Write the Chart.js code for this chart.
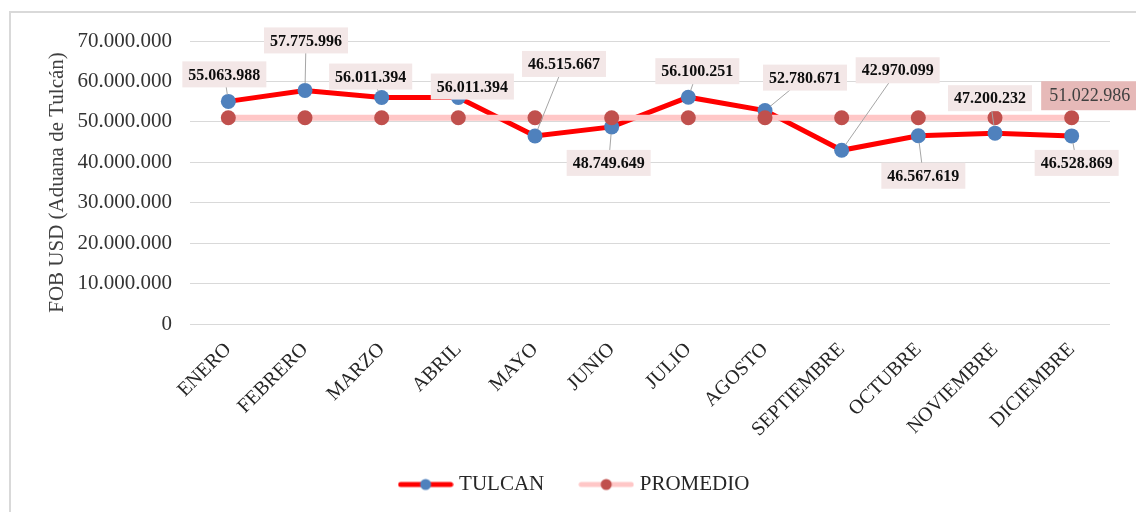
<!DOCTYPE html>
<html><head><meta charset="utf-8">
<script src="https://cdn.jsdelivr.net/npm/chart.js@4"></script>
<style>html,body{margin:0;padding:0;background:#fff;}</style>
</head><body>
<canvas id="c" width="1136" height="512"></canvas>
<script>
const categories = ['ENERO','FEBRERO','MARZO','ABRIL','MAYO','JUNIO','JULIO','AGOSTO','SEPTIEMBRE','OCTUBRE','NOVIEMBRE','DICIEMBRE'];
const tulcanValues = [55063988, 57775996, 56011394, 56011394, 46515667, 48749649, 56100251, 52780671, 42970099, 46567619, 47200232, 46528869];
const promedioValues = [51022986, 51022986, 51022986, 51022986, 51022986, 51022986, 51022986, 51022986, 51022986, 51022986, 51022986, 51022986];
const yTickValues = [0, 10000000, 20000000, 30000000, 40000000, 50000000, 60000000, 70000000];
const seriesNames = ['TULCAN', 'PROMEDIO'];
const axisTitle = 'FOB USD (Aduana de Tulcán)';

function fmt(v){ return String(Math.round(v)).replace(/\B(?=(\d{3})+(?!\d))/g, '.'); }

// label placement (style): dataset, index, offset from point
const labelPlacement = [
  {ds:0,i:0,dx:-4,dy:-27},{ds:0,i:1,dx:1,dy:-50},{ds:0,i:2,dx:-11,dy:-21},{ds:0,i:3,dx:14,dy:-11},
  {ds:0,i:4,dx:29,dy:-72},{ds:0,i:5,dx:-3,dy:36},{ds:0,i:6,dx:9,dy:-26},{ds:0,i:7,dx:40,dy:-33},
  {ds:0,i:8,dx:56,dy:-80},{ds:0,i:9,dx:5,dy:40},{ds:0,i:10,dx:-5,dy:-35},{ds:0,i:11,dx:5,dy:27},
  {ds:1,i:11,dx:18,dy:-22,avg:true}
];

function legendImg(line, dot){
  const c = document.createElement('canvas'); c.width = 56; c.height = 14;
  const g = c.getContext('2d');
  g.strokeStyle = line; g.lineWidth = 5; g.lineCap = 'round';
  g.beginPath(); g.moveTo(3,7); g.lineTo(53,7); g.stroke();
  g.fillStyle = dot; g.beginPath(); g.arc(28,7,5.5,0,Math.PI*2); g.fill();
  return c;
}
const legendImgs = [legendImg('#ff0000','#4f81bd'), legendImg('#ffc7c7','#c0504d')];

const framePlugin = {
  id:'frame',
  afterLayout(chart){
    if(chart.legend){ chart.legend.left += 21; chart.legend.right += 21; }
    if(chart.scales.x){ chart.scales.x.bottom += 20; }
  },
  beforeDraw(chart){
    const ctx = chart.ctx; ctx.save();
    ctx.fillStyle='#fff'; ctx.fillRect(0,0,chart.width,chart.height);
    ctx.strokeStyle='#d9d9d9'; ctx.lineWidth=2;
    ctx.beginPath(); ctx.moveTo(10,chart.height); ctx.lineTo(10,12); ctx.lineTo(chart.width,12); ctx.stroke();
    ctx.restore();
  }
};

const labelPlugin = {
  id:'dlabels',
  afterDatasetsDraw(chart){
    const ctx = chart.ctx; ctx.save();
    labelPlacement.forEach(p=>{
      const el = chart.getDatasetMeta(p.ds).data[p.i];
      const val = chart.data.datasets[p.ds].data[p.i];
      const txt = fmt(val);
      ctx.font = p.avg ? '18px "Liberation Serif"' : 'bold 16px "Liberation Serif"';
      const tw = ctx.measureText(txt).width;
      const w = tw + (p.avg ? 16 : 12), h = p.avg ? 29 : 26;
      const cx = el.x + p.dx, cy = el.y + p.dy;
      const x0 = cx - w/2, y0 = cy - h/2;
      const inside = el.x > x0-8 && el.x < x0+w+8 && el.y > y0-8 && el.y < y0+h+8;
      if(!inside){
        const ang = Math.atan2(cy-el.y, cx-el.x);
        ctx.strokeStyle='#a6a6a6'; ctx.lineWidth=1;
        ctx.beginPath(); ctx.moveTo(el.x+Math.cos(ang)*7, el.y+Math.sin(ang)*7); ctx.lineTo(cx,cy); ctx.stroke();
      }
      ctx.fillStyle = p.avg ? '#e6b9b8' : '#f3e7e7';
      ctx.fillRect(x0,y0,w,h);
      ctx.fillStyle = p.avg ? '#404040' : '#0d0d0d';
      ctx.textAlign='center'; ctx.textBaseline='middle';
      ctx.fillText(txt, cx, cy+1);
    });
    ctx.restore();
  }
};

new Chart(document.getElementById('c'), {
  type:'line',
  data:{ labels:categories, datasets:[
    {label:seriesNames[0], data:tulcanValues, borderColor:'#ff0000', backgroundColor:'#4f81bd', borderWidth:5, pointBackgroundColor:'#4f81bd', pointBorderColor:'#4f81bd', pointRadius:7.5, pointBorderWidth:0, tension:0, order:1},
    {label:seriesNames[1], data:promedioValues, borderColor:'#ffc7c7', backgroundColor:'#c0504d', borderWidth:6, pointBackgroundColor:'#c0504d', pointBorderColor:'#c0504d', pointRadius:7.5, pointBorderWidth:0, tension:0, order:0}
  ]},
  options:{
    responsive:false, animation:false, devicePixelRatio:1,
    layout:{padding:{top:41,right:26,left:0,bottom:7}},
    plugins:{
      tooltip:{enabled:false},
      legend:{position:'bottom', labels:{
        usePointStyle:true, pointStyleWidth:46, padding:39, color:'#262626',
        font:{family:'Liberation Serif', size:21},
        sort:(a,b)=>a.datasetIndex-b.datasetIndex,
        generateLabels(chart){
          const items = Chart.defaults.plugins.legend.labels.generateLabels(chart);
          items.forEach(it=>{ it.pointStyle = legendImgs[it.datasetIndex]; });
          return items;
        }
      }}
    },
    scales:{
      x:{ offset:true, grid:{display:false, drawTicks:false}, border:{display:false},
          ticks:{minRotation:45, maxRotation:45, autoSkip:false, padding:14, color:'#262626', font:{family:'Liberation Serif', size:20}},
          afterFit(s){ s.height = 111; } },
      y:{ min:0, max:70000000, border:{display:false},
          grid:{color:'#d9d9d9', drawTicks:false, lineWidth:1},
          afterBuildTicks(s){ s.ticks = yTickValues.map(v=>({value:v})); },
          ticks:{padding:18, color:'#333', font:{family:'Liberation Serif', size:21}, callback:(v)=>fmt(v)},
          title:{display:true, text:axisTitle, color:'#404040', font:{family:'Liberation Serif', size:21}, padding:{top:45,bottom:0}},
          afterFit(s){ s.width = 190; } }
    }
  },
  plugins:[framePlugin, labelPlugin]
});
</script>
</body></html>
